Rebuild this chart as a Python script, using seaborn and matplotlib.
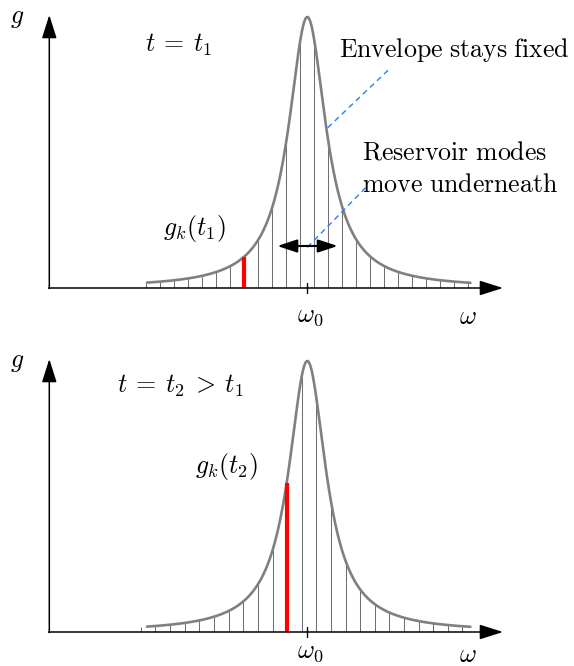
import numpy as np
import matplotlib
matplotlib.use("Agg")
import matplotlib.pyplot as plt
import seaborn as sns

sns.set_theme(style="white")
plt.rcParams["mathtext.fontset"] = "cm"
plt.rcParams["font.family"] = ["DejaVu Serif"]
plt.rcParams["text.color"] = "black"

# ---- data (omega in units of the mode spacing, omega0 = 0; g normalised to peak = 1)
env_peak = 1.0
env_halfwidth = 1.63
env_range = [-11.45, 11.65]

modes_t1 = [-11.5, -10.5, -9.5, -8.5, -7.5, -6.5, -5.5, -4.5, -3.5, -2.5, -1.5, -0.5,
            0.5, 1.5, 2.5, 3.5, 4.5, 5.5, 6.5, 7.5, 8.5, 9.5, 10.5, 11.5]
red_t1 = -4.5
modes_t2 = [-11.87, -10.86, -9.81, -8.76, -7.71, -6.66, -5.61, -4.57, -3.52, -2.47, -1.47,
            -0.38, 0.64, 1.69, 2.74, 3.79, 4.84, 5.86, 6.91, 7.96, 9.0, 10.03, 11.07]
red_t2 = -1.47

W, H = 574, 666
fig = plt.figure(figsize=(W / 100, H / 100), dpi=100)

SX = 14.0     # px per omega unit
SY = 271.0    # px per g unit
X0 = 307.3    # pixel x of omega0
FS = 18.6


def envelope(w):
    w = np.asarray(w, dtype=float)
    return env_peak / (1 + (w / env_halfwidth) ** 2)


def make_panel(top_px, bot_px, axis_px, modes, red, label_t, gk_label, gk_pos, show_annot,
               wlab_dy):
    ax = fig.add_axes([0, 1 - bot_px / H, 1, (bot_px - top_px) / H])
    ax.set_xlim(-X0 / SX, (W - X0) / SX)
    ax.set_ylim((axis_px - bot_px) / SY, (axis_px - top_px) / SY)
    ax.axis("off")

    def px(x, y):
        return ((x - X0) / SX, (axis_px - y) / SY)

    # axes with arrows
    ax.annotate("", xy=px(503, axis_px), xytext=px(48.5, axis_px),
                arrowprops=dict(arrowstyle="-|>,head_length=1.2,head_width=0.38",
                                color="black", lw=1.1, shrinkA=0, shrinkB=0))
    ax.annotate("", xy=px(49.3, axis_px - 273), xytext=px(49.3, axis_px + 0.5),
                arrowprops=dict(arrowstyle="-|>,head_length=1.2,head_width=0.38",
                                color="black", lw=1.1, shrinkA=0, shrinkB=0))
    # omega0 tick
    ax.plot([0, 0], [-5 / SY, 5 / SY], color="black", lw=1.0)

    # modes
    m = np.array(modes)
    ax.vlines(m, 0, envelope(m), color="#707070", lw=0.75)
    xs = np.linspace(*env_range, 600)
    sns.lineplot(x=xs, y=envelope(xs), ax=ax, color="#808080", lw=1.9, sort=False)
    ax.vlines([red], 0, envelope([red]), color="#ff0000", lw=3.0)

    # labels
    ax.text(*px(17, axis_px - 270), r"$g$", fontsize=FS, ha="center", va="center")
    ax.text(*px(310, axis_px + wlab_dy), r"$\omega_0$", fontsize=FS, ha="center", va="center")
    ax.text(*px(468, axis_px + wlab_dy + 2), r"$\omega$", fontsize=FS, ha="center", va="center")
    ax.text(*px(*label_t[1]), label_t[0], fontsize=FS, ha="left", va="center")
    ax.text(*px(*gk_pos), gk_label, fontsize=FS, ha="left", va="center")

    if show_annot:
        ax.annotate("", xy=px(277.3, 246), xytext=px(337.7, 246),
                    arrowprops=dict(arrowstyle="<|-|>,head_length=1.0,head_width=0.33",
                                    color="black", lw=1.5, shrinkA=0, shrinkB=0))
        ax.plot(*zip(px(327.7, 127.7), px(388.3, 70)), color="#2a7bff", lw=1.0, ls=(0, (4, 3)))
        ax.plot(*zip(px(307.3, 247.3), px(366, 187.3)), color="#2a7bff", lw=1.0, ls=(0, (4, 3)))
        ax.text(*px(339, 50), r"$\mathrm{Envelope\ stays\ fixed}$", fontsize=FS,
                ha="left", va="center")
        ax.text(*px(362, 152), r"$\mathrm{Reservoir\ modes}$", fontsize=FS,
                ha="left", va="center")
        ax.text(*px(362, 185), r"$\mathrm{move\ underneath}$", fontsize=FS,
                ha="left", va="center")
    return ax


make_panel(0, 333, 288, modes_t1, red_t1,
           (r"$t\:=\:t_1$", (145, 45)), r"$g_k(t_1)$", (163, 228), True, 27)
make_panel(333, 666, 632, modes_t2, red_t2,
           (r"$t\:=\:t_2\:>\:t_1$", (117, 386)), r"$g_k(t_2)$", (195, 466), False, 20)

fig.savefig("out.png", dpi=100)
